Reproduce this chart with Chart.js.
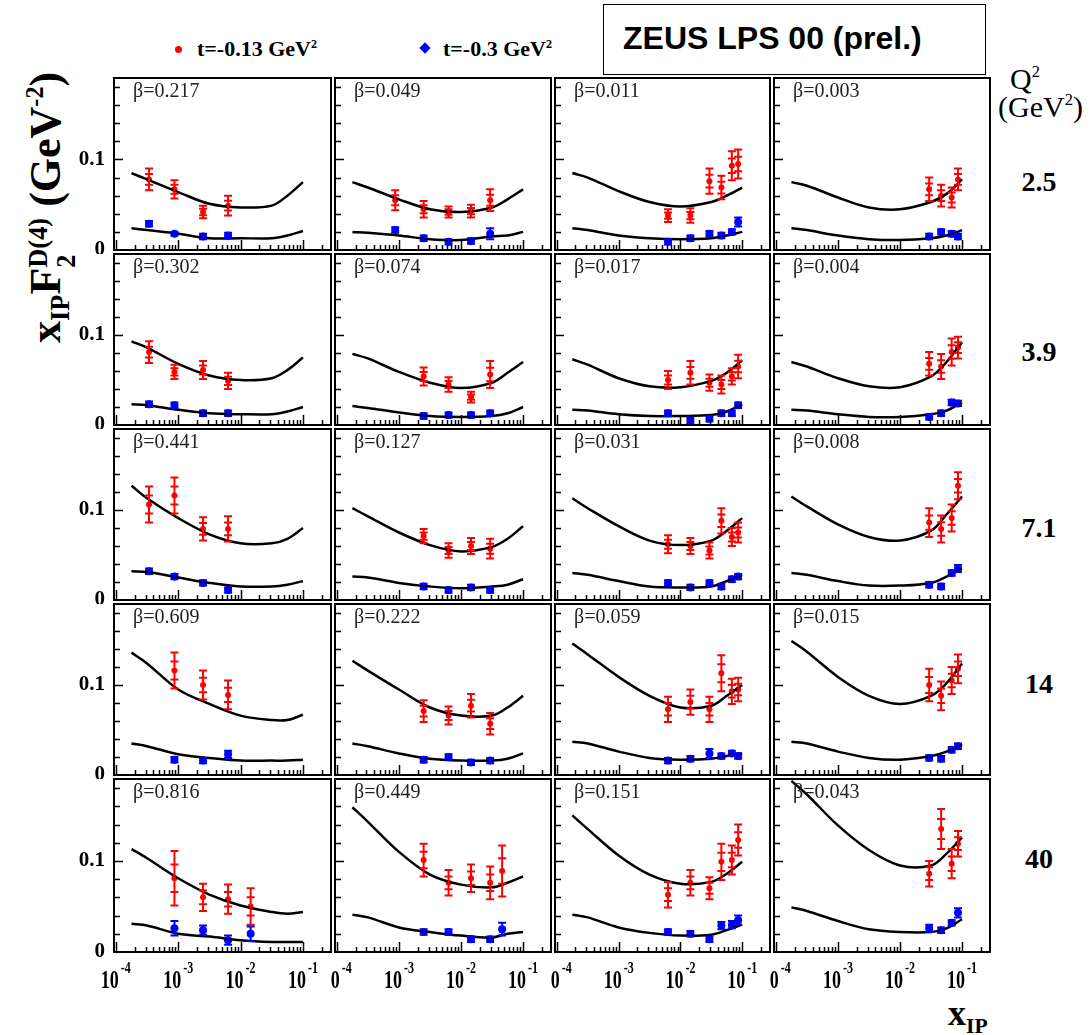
<!DOCTYPE html>
<html lang="en">
<head>
<meta charset="UTF-8">
<title>ZEUS LPS 00 (prel.)</title>
<script src="https://cdn.jsdelivr.net/npm/chart.js@4.4.1/dist/chart.umd.min.js"></script>
<style>
  body { margin: 0; background: #fff; width: 1092px; height: 1035px; position: relative; overflow: hidden;
         font-family: 'Liberation Serif', 'DejaVu Serif', serif; color: #000; }
  canvas.panel { position: absolute; }
  .txt { position: absolute; white-space: nowrap; line-height: 1; }
  .sup { font-size: 0.55em; position: relative; top: -0.7em; }
  .sub { font-size: 0.6em; position: relative; top: 0.35em; }
  .ss { display: inline-block; font-size: 0.6em; line-height: 1.05; vertical-align: -0.55em; }
  .ss span { display: block; }
  #title { position: absolute; left: 603px; top: 4px; width: 383px; height: 71px; box-sizing: border-box;
           border: 1.5px solid #000; font: bold 32px 'Liberation Sans', Arial, sans-serif; padding-left: 19px; line-height: 66px; }
  #ytitle { position: absolute; left: 24px; top: 343px; transform-origin: 0 0; transform: rotate(-90deg);
            font-weight: bold; font-size: 44px; white-space: nowrap; line-height: 1; }
  .q2 { position: absolute; left: 1000px; width: 78px; text-align: center; font-weight: bold; font-size: 28px; line-height: 1; }
</style>
</head>
<body>
<div id="title">ZEUS LPS 00 (prel.)</div>

<div style="position:absolute;left:175px;top:46px;width:7px;height:7px;border-radius:50%;background:#f00"></div>
<div class="txt" style="left:197px;top:38px;font-size:22px;font-weight:bold">t=-0.13 GeV<span class="sup">2</span></div>
<div style="position:absolute;left:421px;top:44px;width:8px;height:8px;background:#00f;transform:rotate(45deg)"></div>
<div class="txt" style="left:443px;top:38px;font-size:22px;font-weight:bold">t=-0.3 GeV<span class="sup">2</span></div>

<div class="txt" style="left:1010px;top:64px;font-size:30px">Q<span class="sup">2</span></div>
<div class="txt" style="left:998px;top:92px;font-size:30px">(GeV<span class="sup">2</span>)</div>

<div id="ytitle">x<span class="sub">IP</span>F<span class="ss"><span>D(4)</span><span>2</span></span> (GeV<span class="sup">-2</span>)</div>
<div class="txt" style="left:948px;top:995px;font-size:36px;font-weight:bold">x<span class="sub">IP</span></div>

<script>
// x_IP values of the measured points (shared grid)
const xIP = [0.00034, 0.00087, 0.0025, 0.0063, 0.0145, 0.0295, 0.046, 0.068, 0.086];
// x_IP values at which the fit curves are read
const fitX = [0.000178, 0.000316, 0.001, 0.00316, 0.01, 0.0316, 0.0562, 0.1];

const q2Labels = ['2.5', '3.9', '7.1', '14', '40'];
const betas = [
  ['0.217', '0.049', '0.011', '0.003'],
  ['0.302', '0.074', '0.017', '0.004'],
  ['0.441', '0.127', '0.031', '0.008'],
  ['0.609', '0.222', '0.059', '0.015'],
  ['0.816', '0.449', '0.151', '0.043']
];

// [index into xIP, value, error], panels row by row
const redPts = [
  [[0,0.078,0.012],[1,0.067,0.010],[2,0.042,0.007],[3,0.049,0.011]],
  [[1,0.055,0.011],[2,0.045,0.009],[3,0.042,0.006],[4,0.043,0.007],[5,0.055,0.012]],
  [[3,0.038,0.007],[4,0.038,0.008],[5,0.076,0.014],[6,0.069,0.013],[7,0.093,0.016],[8,0.095,0.016]],
  [[5,0.067,0.013],[6,0.060,0.012],[7,0.058,0.011],[8,0.078,0.012]],

  [[0,0.081,0.012],[1,0.059,0.008],[2,0.061,0.010],[3,0.049,0.009]],
  [[2,0.054,0.010],[3,0.045,0.008],[4,0.031,0.006],[5,0.056,0.015]],
  [[3,0.050,0.010],[4,0.058,0.013],[5,0.047,0.009],[6,0.045,0.010],[7,0.054,0.009],[8,0.065,0.013]],
  [[5,0.068,0.013],[6,0.065,0.014],[7,0.081,0.015],[8,0.086,0.012]],

  [[0,0.106,0.020],[1,0.116,0.020],[2,0.079,0.013],[3,0.079,0.014]],
  [[2,0.071,0.008],[3,0.055,0.008],[4,0.060,0.009],[5,0.057,0.011]],
  [[3,0.062,0.010],[4,0.060,0.009],[5,0.055,0.009],[6,0.088,0.014],[7,0.070,0.010],[8,0.075,0.011]],
  [[5,0.086,0.016],[6,0.079,0.015],[7,0.091,0.015],[8,0.127,0.015]],

  [[1,0.116,0.020],[2,0.100,0.016],[3,0.089,0.016]],
  [[2,0.071,0.012],[3,0.066,0.010],[4,0.077,0.013],[5,0.057,0.012]],
  [[3,0.073,0.014],[4,0.081,0.014],[5,0.073,0.014],[6,0.113,0.020],[7,0.093,0.014],[8,0.095,0.013]],
  [[5,0.100,0.018],[6,0.088,0.016],[7,0.105,0.015],[8,0.118,0.016]],

  [[1,0.081,0.030],[2,0.060,0.015],[3,0.058,0.016],[4,0.050,0.020]],
  [[2,0.101,0.018],[3,0.076,0.014],[4,0.081,0.015],[5,0.076,0.018],[6,0.089,0.028]],
  [[3,0.063,0.014],[4,0.076,0.014],[5,0.070,0.012],[6,0.099,0.020],[7,0.101,0.016],[8,0.123,0.017]],
  [[5,0.086,0.014],[6,0.135,0.022],[7,0.097,0.016],[8,0.119,0.014]]
];

const bluePts = [
  [[0,0.029,0.003],[1,0.018,0.002],[2,0.015,0.003],[3,0.016,0.003]],
  [[1,0.022,0.003],[2,0.013,0.003],[3,0.009,0.003],[4,0.010,0.003],[5,0.018,0.006]],
  [[3,0.009,0.003],[4,0.013,0.003],[5,0.018,0.003],[6,0.016,0.003],[7,0.020,0.003],[8,0.031,0.005]],
  [[5,0.015,0.003],[6,0.020,0.003],[7,0.018,0.003],[8,0.015,0.003]],

  [[0,0.023,0.003],[1,0.022,0.003],[2,0.013,0.003],[3,0.013,0.003]],
  [[2,0.010,0.003],[3,0.011,0.003],[4,0.011,0.003],[5,0.013,0.003]],
  [[3,0.013,0.003],[4,0.005,0.003],[5,0.007,0.003],[6,0.013,0.003],[7,0.013,0.003],[8,0.022,0.003]],
  [[5,0.009,0.003],[6,0.013,0.003],[7,0.025,0.003],[8,0.024,0.003]],

  [[0,0.032,0.003],[1,0.026,0.003],[2,0.019,0.003],[3,0.011,0.003]],
  [[2,0.015,0.003],[3,0.011,0.003],[4,0.014,0.003],[5,0.011,0.003]],
  [[3,0.019,0.003],[4,0.014,0.003],[5,0.019,0.003],[6,0.015,0.003],[7,0.023,0.003],[8,0.026,0.003]],
  [[5,0.017,0.003],[6,0.015,0.003],[7,0.030,0.003],[8,0.035,0.004]],

  [[1,0.017,0.003],[2,0.016,0.003],[3,0.023,0.004]],
  [[2,0.017,0.003],[3,0.020,0.003],[4,0.014,0.003],[5,0.016,0.003]],
  [[3,0.016,0.003],[4,0.018,0.003],[5,0.024,0.005],[6,0.021,0.003],[7,0.024,0.003],[8,0.021,0.003]],
  [[5,0.019,0.003],[6,0.018,0.003],[7,0.028,0.003],[8,0.032,0.003]],

  [[1,0.026,0.008],[2,0.024,0.005],[3,0.013,0.005],[4,0.020,0.008]],
  [[2,0.022,0.003],[3,0.022,0.003],[4,0.014,0.003],[5,0.014,0.003],[6,0.025,0.007]],
  [[3,0.022,0.003],[4,0.020,0.003],[5,0.014,0.003],[6,0.029,0.004],[7,0.030,0.004],[8,0.035,0.005]],
  [[5,0.026,0.004],[6,0.024,0.003],[7,0.032,0.003],[8,0.043,0.005]]
];

// fit curves, t=-0.13 (upper) and t=-0.3 (lower), values at fitX
const fitHi = [
  [0.085,0.078,0.064,0.051,0.047,0.049,0.060,0.075],
  [0.075,0.069,0.056,0.045,0.042,0.047,0.056,0.067],
  [0.085,0.080,0.065,0.053,0.048,0.053,0.060,0.069],
  [0.075,0.071,0.058,0.047,0.045,0.053,0.062,0.078],

  [0.093,0.086,0.068,0.055,0.050,0.052,0.061,0.075],
  [0.079,0.074,0.059,0.047,0.041,0.047,0.058,0.070],
  [0.073,0.067,0.052,0.043,0.042,0.049,0.058,0.072],
  [0.070,0.065,0.052,0.043,0.042,0.054,0.070,0.092],

  [0.127,0.113,0.091,0.073,0.063,0.063,0.068,0.080],
  [0.102,0.093,0.075,0.061,0.054,0.059,0.068,0.082],
  [0.113,0.102,0.082,0.066,0.061,0.066,0.077,0.091],
  [0.115,0.104,0.084,0.070,0.066,0.077,0.095,0.115],

  [0.136,0.124,0.095,0.079,0.066,0.061,0.061,0.067],
  [0.127,0.116,0.095,0.075,0.066,0.066,0.075,0.088],
  [0.146,0.134,0.109,0.088,0.075,0.077,0.088,0.100],
  [0.149,0.137,0.109,0.088,0.079,0.088,0.102,0.124],

  [0.113,0.103,0.081,0.063,0.051,0.044,0.042,0.044],
  [0.159,0.143,0.110,0.085,0.074,0.071,0.076,0.083],
  [0.150,0.135,0.106,0.085,0.075,0.077,0.086,0.099],
  [0.188,0.173,0.139,0.112,0.095,0.095,0.108,0.126]
];

const fitLo = [
  [0.024,0.022,0.018,0.013,0.013,0.013,0.016,0.021],
  [0.020,0.019,0.016,0.012,0.011,0.015,0.016,0.020],
  [0.024,0.022,0.016,0.013,0.012,0.013,0.016,0.020],
  [0.024,0.022,0.016,0.012,0.011,0.013,0.016,0.022],

  [0.023,0.022,0.017,0.013,0.012,0.012,0.015,0.020],
  [0.021,0.019,0.014,0.010,0.009,0.010,0.013,0.020],
  [0.017,0.016,0.012,0.010,0.010,0.011,0.015,0.023],
  [0.017,0.016,0.012,0.009,0.009,0.012,0.016,0.025],

  [0.032,0.031,0.025,0.019,0.015,0.015,0.017,0.021],
  [0.026,0.025,0.019,0.015,0.013,0.015,0.017,0.023],
  [0.030,0.028,0.021,0.015,0.014,0.015,0.021,0.028],
  [0.030,0.028,0.021,0.016,0.016,0.019,0.026,0.035],

  [0.035,0.032,0.023,0.019,0.016,0.016,0.016,0.017],
  [0.035,0.032,0.024,0.018,0.016,0.016,0.018,0.024],
  [0.037,0.035,0.026,0.019,0.017,0.018,0.021,0.024],
  [0.037,0.035,0.026,0.019,0.017,0.021,0.026,0.034],

  [0.031,0.029,0.020,0.017,0.013,0.011,0.011,0.011],
  [0.041,0.038,0.027,0.022,0.018,0.016,0.020,0.022],
  [0.041,0.038,0.027,0.021,0.018,0.019,0.024,0.030],
  [0.049,0.045,0.034,0.025,0.022,0.022,0.026,0.036]
];

// layout of the 5x4 grid
const colEdges = [114, 333, 553, 772, 992];
const rowEdges = [76, 252, 427, 602, 777, 952];
const xMin = Math.pow(10, -4.03), xMax = Math.pow(10, -0.55);
const yMax = 0.19;
const serif = "'Liberation Serif', 'DejaVu Serif', serif";

// Q2 labels on the right
const q2Top = [168, 338, 514, 670, 845];
q2Labels.forEach((q, r) => {
  const d = document.createElement('div');
  d.className = 'q2';
  d.style.top = q2Top[r] + 'px';
  d.textContent = q;
  document.body.appendChild(d);
});

function drawErrors(ctx, x, y, pts, color, inner) {
  ctx.strokeStyle = color;
  ctx.lineWidth = 2;
  pts.forEach(([i, v, e]) => {
    const px = x.getPixelForValue(xIP[i]);
    const t = y.getPixelForValue(v + e), b = y.getPixelForValue(Math.max(v - e, 0));
    ctx.beginPath();
    ctx.moveTo(px, t); ctx.lineTo(px, b);
    ctx.moveTo(px - 4, t); ctx.lineTo(px + 4, t);
    ctx.moveTo(px - 4, b); ctx.lineTo(px + 4, b);
    if (inner) {
      const ti = y.getPixelForValue(v + e * 0.5), bi = y.getPixelForValue(v - e * 0.5);
      ctx.moveTo(px - 4, ti); ctx.lineTo(px + 4, ti);
      ctx.moveTo(px - 4, bi); ctx.lineTo(px + 4, bi);
    }
    ctx.stroke();
  });
}

const panelDecor = {
  id: 'panelDecor',
  afterDatasetsDraw(chart, args, opts) {
    const { ctx, chartArea: a, scales: { x, y } } = chart;
    const r = opts.row, c = opts.col, p = r * 4 + c;
    ctx.save();
    drawErrors(ctx, x, y, redPts[p], '#f00', true);
    drawErrors(ctx, x, y, bluePts[p], '#00f', false);

    // frame
    ctx.strokeStyle = '#000';
    ctx.lineWidth = 2;
    ctx.strokeRect(a.left, a.top, a.right - a.left, a.bottom - a.top);

    // y ticks every 0.02
    ctx.lineWidth = 1.5;
    ctx.beginPath();
    for (let k = 1; k * 0.02 < yMax; k++) {
      const py = Math.round(y.getPixelForValue(k * 0.02)) + 0.5;
      ctx.moveTo(a.left, py); ctx.lineTo(a.left + (k === 5 ? 9 : 6), py);
    }
    // log x ticks
    for (let d = -5; d <= 0; d++) {
      for (let m = 1; m <= 9; m++) {
        const v = m * Math.pow(10, d);
        if (v <= xMin || v >= xMax) continue;
        const px = Math.round(x.getPixelForValue(v)) + 0.5;
        ctx.moveTo(px, a.bottom); ctx.lineTo(px, a.bottom - (m === 1 ? 10 : 5));
      }
    }
    ctx.stroke();

    // beta label
    ctx.fillStyle = '#222';
    ctx.font = '20px ' + serif;
    ctx.textBaseline = 'top';
    ctx.textAlign = 'left';
    ctx.fillText('\u03b2=' + betas[r][c], a.left + 19, a.top + 4);

    ctx.fillStyle = '#000';
    if (c === 0) {
      ctx.font = 'bold 21px ' + serif;
      ctx.textAlign = 'right';
      ctx.textBaseline = 'middle';
      ['0', '0.1'].forEach(s => ctx.fillText(s, a.left - 9, y.getPixelForValue(parseFloat(s))));
    }
    if (r === 4) {
      ctx.textAlign = 'left';
      ctx.textBaseline = 'alphabetic';
      for (let d = -4; d <= -1; d++) {
        const px = x.getPixelForValue(Math.pow(10, d));
        ctx.font = 'bold 18px ' + serif;
        const w1 = ctx.measureText('10').width;
        ctx.font = 'bold 12px ' + serif;
        const sup = '-' + (-d);
        const w2 = ctx.measureText(sup).width;
        const x0 = px - (w1 + w2 + 2) / 2;
        ctx.save();
        ctx.translate(0, a.bottom + 36);
        ctx.scale(1, 1.35);
        ctx.font = 'bold 18px ' + serif;
        ctx.fillText('10', x0, 0);
        ctx.font = 'bold 12px ' + serif;
        ctx.fillText(sup, x0 + w1 + 2, -11);
        ctx.restore();
      }
    }
    ctx.restore();
  }
};

for (let r = 0; r < 5; r++) {
  for (let c = 0; c < 4; c++) {
    const p = r * 4 + c;
    const padL = (c === 0 ? 60 : 0) + 2, padB = (r === 4 ? 50 : 0) + 2;
    const w = colEdges[c + 1] - colEdges[c], h = rowEdges[r + 1] - rowEdges[r];
    const cv = document.createElement('canvas');
    cv.className = 'panel';
    cv.width = w + padL + 2;
    cv.height = h + padB + 2;
    cv.style.left = (colEdges[c] - padL) + 'px';
    cv.style.top = (rowEdges[r] - 2) + 'px';
    cv.style.width = cv.width + 'px';
    cv.style.height = cv.height + 'px';
    document.body.appendChild(cv);

    const curve = vals => ({
      type: 'line',
      data: fitX.map((xv, k) => ({ x: xv, y: vals[k] })),
      borderColor: '#000', borderWidth: 2.5, pointRadius: 0,
      tension: 0.35, fill: false
    });

    new Chart(cv, {
      type: 'scatter',
      data: {
        datasets: [
          curve(fitHi[p]),
          curve(fitLo[p]),
          { data: redPts[p].map(([i, v]) => ({ x: xIP[i], y: v })),
            pointRadius: 3, pointStyle: 'circle', backgroundColor: '#f00', borderColor: '#f00', borderWidth: 0 },
          { data: bluePts[p].map(([i, v]) => ({ x: xIP[i], y: v })),
            pointRadius: 4, pointStyle: 'circle', backgroundColor: '#00f', borderColor: '#00f', borderWidth: 0 }
        ]
      },
      options: {
        responsive: false,
        animation: false,
        devicePixelRatio: 1,
        events: [],
        layout: { padding: { left: padL, right: 2, top: 2, bottom: padB } },
        scales: {
          x: { type: 'logarithmic', min: xMin, max: xMax, display: false },
          y: { type: 'linear', min: 0, max: yMax, display: false }
        },
        plugins: {
          legend: { display: false },
          tooltip: { enabled: false },
          panelDecor: { row: r, col: c }
        }
      },
      plugins: [panelDecor]
    });
  }
}
</script>
</body>
</html>
